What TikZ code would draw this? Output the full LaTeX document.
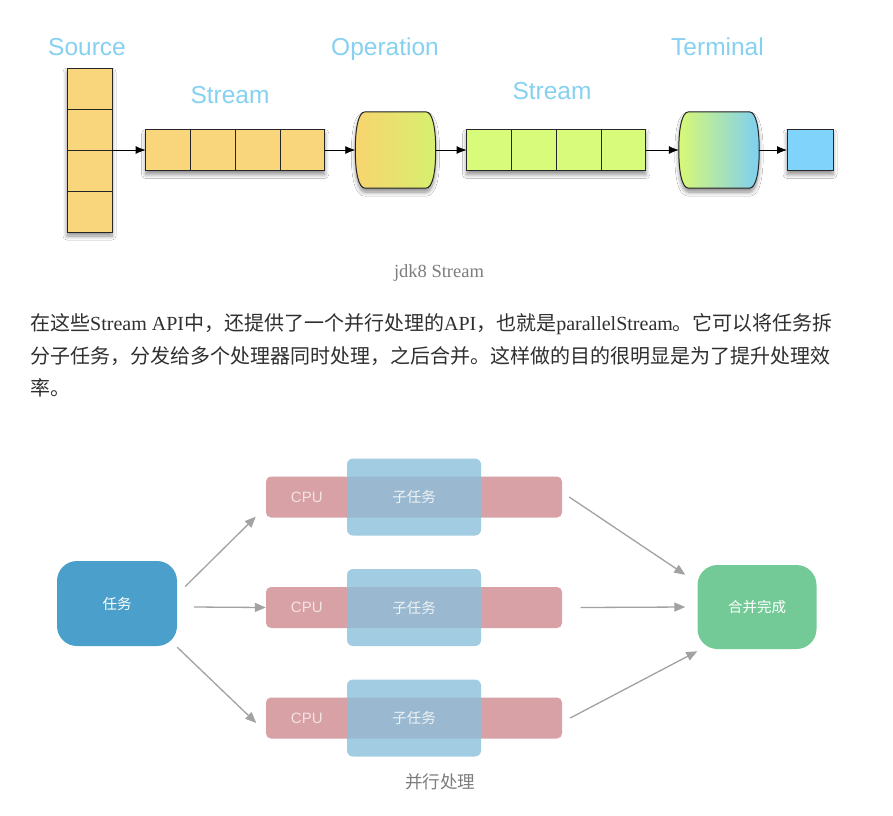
\documentclass[tikz,border=0pt]{standalone}
\usepackage{fontspec}
\setmainfont{Liberation Serif}
\setsansfont{Liberation Sans}
\newfontfamily\cjk{Noto Sans CJK SC}
\usetikzlibrary{arrows.meta, positioning, backgrounds, shadows.blur, calc}
\definecolor{LabelBlue}{HTML}{86D1F1}
\definecolor{CellOrange}{HTML}{F9D57C}
\definecolor{CellLime}{HTML}{D9FB7B}
\definecolor{CellBlue}{HTML}{80D3FB}
\definecolor{OpLeft}{HTML}{F8D46F}
\definecolor{OpRight}{HTML}{D6F06F}
\definecolor{TermLeft}{HTML}{D8F875}
\definecolor{TermRight}{HTML}{7ECFF2}
\definecolor{TxtPri}{HTML}{2F2F2F}
\definecolor{CapGray}{HTML}{7D7D7D}
\definecolor{TaskBlue}{HTML}{4B9FCB}
\definecolor{CpuRed}{HTML}{D7A1A5}
\definecolor{SubBlue}{HTML}{8BC0DB}
\definecolor{SubTxt}{HTML}{EEF3F6}
\definecolor{CpuTxt}{HTML}{F5E3E4}
\definecolor{DoneGreen}{HTML}{73CA97}
\definecolor{ArrGray}{HTML}{A2A2A2}

\tikzset{
  soft/.style={blur shadow={shadow xshift=0pt, shadow yshift=-4pt, shadow blur radius=4pt,
               shadow blur steps=8, shadow opacity=45}},
}

\newcommand{\barrel}[3]{%
  \path[draw=black!85, line width=1pt, left color=#2, right color=#3, soft]
    ([xshift=10pt]#1.north west) -- ([xshift=-10pt]#1.north east)
    .. controls ([xshift=-3pt]#1.north east) and ([yshift=22pt]#1.east) .. (#1.east)
    .. controls ([yshift=-22pt]#1.east) and ([xshift=-3pt]#1.south east) .. ([xshift=-10pt]#1.south east)
    -- ([xshift=10pt]#1.south west)
    .. controls ([xshift=3pt]#1.south west) and ([yshift=-22pt]#1.west) .. (#1.west)
    .. controls ([yshift=22pt]#1.west) and ([xshift=3pt]#1.north west) .. cycle;}

\begin{document}
\begin{tikzpicture}[x=1pt, y=-1pt,
        cell/.style={draw=black!85, fill=CellOrange, line width=1pt, outer sep=0pt,
                     minimum width=44.8pt, minimum height=41pt, inner sep=0pt},
        stage/.style={minimum width=80pt, minimum height=76pt, inner sep=0pt},
        flow/.style={-{Latex[length=10pt,width=8pt]}, line width=0.8pt, black},
        lbl/.style={anchor=base, inner sep=0pt, text=LabelBlue,
                    font=\sffamily\fontsize{24.5}{28}\selectfont},
        para/.style={anchor=base west, inner sep=0pt, text=TxtPri,
                     font=\fontsize{20}{25}\selectfont},
        capt/.style={anchor=base, inner sep=0pt, text=CapGray},
        taskbox/.style={rounded corners=20pt, minimum width=120pt, minimum height=85pt,
                        text=white, font=\cjk\fontsize{14.5}{16}\selectfont},
        cpubar/.style={fill=CpuRed, rounded corners=5pt, minimum width=296pt,
                       minimum height=41pt, inner sep=0pt},
        cputxt/.style={text=CpuTxt, inner sep=0pt, font=\sffamily\fontsize{15}{17}\selectfont},
        subbox/.style={fill=SubBlue, fill opacity=0.8, text opacity=1, rounded corners=6pt,
                       minimum width=134pt, minimum height=77pt, text=SubTxt,
                       font=\cjk\fontsize{14.5}{16}\selectfont},
        fan/.style={-{Triangle[length=11pt,width=9pt]}, line width=1.3pt, ArrGray}]
        \useasboundingbox (0,0) rectangle (893,815);

        \node[lbl] (lsrc) at (87,55) {Source};
        \node[lbl] (lsa) at (230,103) {Stream};
        \node[lbl] (lop) at (385,55) {Operation};
        \node[lbl] (lsb) at (552,99) {Stream};
        \node[lbl] (lterm) at (717.5,55) {Terminal};

        \node[cell, minimum width=45pt] (src1) at (89.5,88.5) {};
        \foreach \i [count=\j from 2] in {1,2,3}
          \node[cell, minimum width=45pt, below=0pt of src\i] (src\j) {};

        \node[cell] (sa1) at (168,150) {};
        \foreach \i [count=\j from 2] in {1,2,3}
          \node[cell, right=0pt of sa\i] (sa\j) {};

        \node[stage] (oper) at (395.5,150) {};
        \barrel{oper}{OpLeft}{OpRight}

        \node[cell, fill=CellLime] (sb1) at (489,150) {};
        \foreach \i [count=\j from 2] in {1,2,3}
          \node[cell, fill=CellLime, right=0pt of sb\i] (sb\j) {};

        \node[stage] (term) at (719,150) {};
        \barrel{term}{TermLeft}{TermRight}

        \node[cell, fill=CellBlue, minimum width=46pt] (fin) at (810,150) {};

        \begin{scope}[on background layer]
          \fill[white] (0,0) rectangle (893,815);
          \path[soft] (src1.north west) rectangle (src4.south east);
          \path[soft] (sa1.north west) rectangle (sa4.south east);
          \path[soft] (sb1.north west) rectangle (sb4.south east);
          \path[soft] (fin.north west) rectangle (fin.south east);
        \end{scope}

        \draw[flow] (src2.south east) -- (sa1.west);
        \draw[flow] (sa4.east) -- (oper.west);
        \draw[flow] (oper.east) -- (sb1.west);
        \draw[flow] (sb4.east) -- (term.west);
        \draw[flow] (term.east) -- (fin.west);

        \node[capt, font=\fontsize{18.5}{21}\selectfont] (cap1) at (439,277) {jdk8 Stream};

        \node[para] (ln1) at (30,330) {{\cjk 在这些}Stream API{\cjk 中，还提供了一个并行处理的}API{\cjk ，也就是}parallelStream{\cjk 。它可以将任务拆}};
        \node[para] (ln2) at (30,363) {\cjk 分子任务，分发给多个处理器同时处理，之后合并。这样做的目的很明显是为了提升处理效};
        \node[para] (ln3) at (30,395) {\cjk 率。};

        \node[taskbox, fill=TaskBlue] (task) at (117,603.5) {任务};
        \foreach \y [count=\k] in {497,607.5,718} {
          \node[cpubar] (cpu\k) at (414,\y) {};
          \node[cputxt] (cpul\k) at ([xshift=41pt]cpu\k.west) {CPU};
          \node[subbox] (sub\k) at (414,\y) {子任务};
        }
        \node[taskbox, fill=DoneGreen, minimum width=119pt, minimum height=84pt] (done) at (757,607) {合并完成};

        \draw[fan] ([xshift=8pt,yshift=17pt]task.east) -- ([xshift=-10pt,yshift=1pt]cpu1.south west);
        \draw[fan] ([xshift=17pt,yshift=-3.5pt]task.east) -- (cpu2.west);
        \draw[fan] ([yshift=-1pt]task.south east) -- ([xshift=-9.5pt,yshift=-5pt]cpu3.west);
        \draw[fan] ([xshift=7pt]cpu1.east) -- ([xshift=-12pt,yshift=-10pt]done.north west);
        \draw[fan] ([xshift=18.5pt]cpu2.east) -- ([xshift=-12pt]done.west);
        \draw[fan] ([xshift=8pt]cpu3.east) -- ([yshift=-2pt]done.south west);

        \node[capt, font=\cjk\fontsize{17.5}{20}\selectfont] (cap2) at (440,788) {并行处理};
\end{tikzpicture}
\end{document}
